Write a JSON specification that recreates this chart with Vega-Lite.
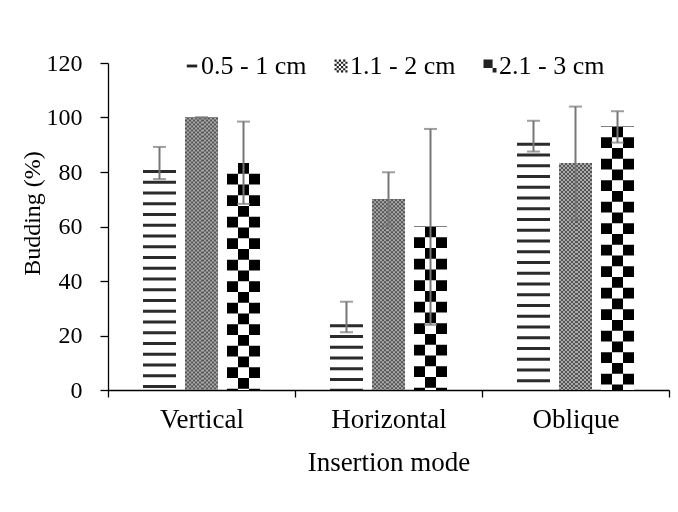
{
  "$schema": "https://vega.github.io/schema/vega-lite/v6.json",
  "width": 561,
  "height": 327,
  "autosize": "none",
  "padding": {"left": 108, "top": 63, "right": 9, "bottom": 122},
  "background": "white",
  "config": {
    "view": {"stroke": null},
    "font": "Liberation Serif",
    "axis": {
      "labelFont": "Liberation Serif",
      "titleFont": "Liberation Serif",
      "labelFontSize": 24,
      "titleFontSize": 24,
      "labelColor": "#000",
      "titleColor": "#000",
      "titleFontWeight": "normal",
      "domainColor": "#000",
      "tickColor": "#000",
      "domainWidth": 1.3,
      "tickWidth": 1.3,
      "grid": false,
      "tickSize": 8
    }
  },
  "data": {
    "values": [
      {"mode": "Vertical", "size": "0.5 - 1 cm", "value": 83.3, "lo": 77.4, "hi": 89.2},
      {"mode": "Vertical", "size": "1.1 - 2 cm", "value": 100, "lo": 100, "hi": 100},
      {"mode": "Vertical", "size": "2.1 - 3 cm", "value": 83.3, "lo": 68.3, "hi": 98.5},
      {"mode": "Horizontal", "size": "0.5 - 1 cm", "value": 26.7, "lo": 21.2, "hi": 32.4},
      {"mode": "Horizontal", "size": "1.1 - 2 cm", "value": 70, "lo": 60.3, "hi": 79.9},
      {"mode": "Horizontal", "size": "2.1 - 3 cm", "value": 60, "lo": 23.9, "hi": 95.8},
      {"mode": "Oblique", "size": "0.5 - 1 cm", "value": 93.3, "lo": 87.5, "hi": 98.8},
      {"mode": "Oblique", "size": "1.1 - 2 cm", "value": 83.3, "lo": 62.4, "hi": 104},
      {"mode": "Oblique", "size": "2.1 - 3 cm", "value": 96.7, "lo": 90.8, "hi": 102.3}
    ]
  },
  "encoding": {
    "x": {
      "field": "mode",
      "type": "nominal",
      "sort": ["Vertical", "Horizontal", "Oblique"],
      "scale": {"paddingInner": 0, "paddingOuter": 0},
      "axis": {"title": "Insertion mode", "labelAngle": 0, "tickBand": "extent", "tickSize": 7, "labelPadding": 9, "titlePadding": 17, "labelFontSize": 27, "titleFontSize": 27}
    },
    "xOffset": {
      "field": "size",
      "type": "nominal",
      "scale": {"domain": ["0.5 - 1 cm", "1.1 - 2 cm", "2.1 - 3 cm"], "paddingInner": 0.214, "paddingOuter": 0.833}
    }
  },
  "layer": [
    {
      "transform": [{"filter": "datum.size === '0.5 - 1 cm'"}],
      "mark": {"type": "rule", "stroke": "#2b2b2b", "strokeWidth": 33, "strokeDash": [3, 7.75], "strokeDashOffset": 3.75},
      "encoding": {
        "y": {"field": "value", "type": "quantitative", "scale": {"domain": [0, 120]},
          "axis": {"title": "Budding (%)", "values": [0, 20, 40, 60, 80, 100, 120], "labelPadding": 18, "titlePadding": 2, "titleY": 150}},
        "y2": {"datum": 0}
      }
    },
    {
      "transform": [{"filter": "datum.size === '1.1 - 2 cm'"}],
      "mark": {"type": "bar", "fill": {"gradient": "linear", "x1": 0, "x2": 1, "y1": 0, "y2": 0, "stops": [
        {"offset": 0, "color": "#555555"}, {"offset": 0.0625, "color": "#555555"},
        {"offset": 0.0625, "color": "#aaaaaa"}, {"offset": 0.125, "color": "#aaaaaa"},
        {"offset": 0.125, "color": "#555555"}, {"offset": 0.1875, "color": "#555555"},
        {"offset": 0.1875, "color": "#aaaaaa"}, {"offset": 0.25, "color": "#aaaaaa"},
        {"offset": 0.25, "color": "#555555"}, {"offset": 0.3125, "color": "#555555"},
        {"offset": 0.3125, "color": "#aaaaaa"}, {"offset": 0.375, "color": "#aaaaaa"},
        {"offset": 0.375, "color": "#555555"}, {"offset": 0.4375, "color": "#555555"},
        {"offset": 0.4375, "color": "#aaaaaa"}, {"offset": 0.5, "color": "#aaaaaa"},
        {"offset": 0.5, "color": "#555555"}, {"offset": 0.5625, "color": "#555555"},
        {"offset": 0.5625, "color": "#aaaaaa"}, {"offset": 0.625, "color": "#aaaaaa"},
        {"offset": 0.625, "color": "#555555"}, {"offset": 0.6875, "color": "#555555"},
        {"offset": 0.6875, "color": "#aaaaaa"}, {"offset": 0.75, "color": "#aaaaaa"},
        {"offset": 0.75, "color": "#555555"}, {"offset": 0.8125, "color": "#555555"},
        {"offset": 0.8125, "color": "#aaaaaa"}, {"offset": 0.875, "color": "#aaaaaa"},
        {"offset": 0.875, "color": "#555555"}, {"offset": 0.9375, "color": "#555555"},
        {"offset": 0.9375, "color": "#aaaaaa"}, {"offset": 1, "color": "#aaaaaa"}
      ]}},
      "encoding": {"y": {"field": "value", "type": "quantitative", "title": "Budding (%)"}}
    },
    {
      "transform": [{"filter": "datum.size === '1.1 - 2 cm'"}],
      "mark": {"type": "rule", "stroke": "#ffffff", "strokeWidth": 33, "strokeDash": [2, 2], "blend": "difference"},
      "encoding": {
        "y": {"field": "value", "type": "quantitative", "title": "Budding (%)"},
        "y2": {"datum": 0}
      }
    },
    {
      "transform": [{"filter": "datum.size === '2.1 - 3 cm'"}],
      "mark": {"type": "bar", "fill": {"gradient": "linear", "x1": 0, "x2": 1, "y1": 0, "y2": 0, "stops": [
        {"offset": 0, "color": "#000000"}, {"offset": 0.3333, "color": "#000000"},
        {"offset": 0.3333, "color": "#ffffff"}, {"offset": 0.6667, "color": "#ffffff"},
        {"offset": 0.6667, "color": "#000000"}, {"offset": 1, "color": "#000000"}
      ]}},
      "encoding": {"y": {"field": "value", "type": "quantitative", "title": "Budding (%)"}}
    },
    {
      "transform": [{"filter": "datum.size === '2.1 - 3 cm'"}],
      "mark": {"type": "rule", "stroke": "#ffffff", "strokeWidth": 33, "strokeDash": [10.75, 10.75], "blend": "difference"},
      "encoding": {
        "y": {"field": "value", "type": "quantitative", "title": "Budding (%)"},
        "y2": {"datum": 0}
      }
    },
    {
      "mark": {"type": "rule", "stroke": "#767676", "strokeWidth": 2},
      "encoding": {
        "y": {"field": "lo", "type": "quantitative", "title": "Budding (%)"},
        "y2": {"field": "hi"}
      }
    },
    {
      "mark": {"type": "tick", "color": "#767676", "size": 13, "thickness": 2},
      "encoding": {"y": {"field": "lo", "type": "quantitative", "title": "Budding (%)"}}
    },
    {
      "mark": {"type": "tick", "color": "#767676", "size": 13, "thickness": 2},
      "encoding": {"y": {"field": "hi", "type": "quantitative", "title": "Budding (%)"}}
    },
    {
      "mark": {"type": "point", "filled": true, "color": "#222222", "opacity": 0},
      "encoding": {
        "y": {"field": "value", "type": "quantitative", "title": "Budding (%)"},
        "shape": {
          "field": "size",
          "type": "nominal",
          "scale": {
            "domain": ["0.5 - 1 cm", "1.1 - 2 cm", "2.1 - 3 cm"],
            "range": [
              "M-0.8,-0.22H0.8V0.22H-0.8Z",
              "M-1,-1h.333v.333h-.333zM-.333,-1h.333v.333h-.333zM.333,-1h.333v.333h-.333zM-.667,-.667h.333v.333h-.333zM0,-.667h.333v.333h-.333zM.667,-.667h.333v.333h-.333zM-1,-.333h.333v.333h-.333zM-.333,-.333h.333v.333h-.333zM.333,-.333h.333v.333h-.333zM-.667,0h.333v.333h-.333zM0,0h.333v.333h-.333zM.667,0h.333v.333h-.333zM-1,.333h.333v.333h-.333zM-.333,.333h.333v.333h-.333zM.333,.333h.333v.333h-.333zM-.667,.667h.333v.333h-.333zM0,.667h.333v.333h-.333zM.667,.667h.333v.333h-.333z",
              "M-1,-1H.4V.3H-1ZM.4,.3H1V1H.4Z"
            ]
          },
          "legend": {
            "title": null,
            "orient": "none",
            "legendX": 71,
            "legendY": -10,
            "direction": "horizontal",
            "columnPadding": 21,
            "labelFont": "Liberation Serif",
            "labelFontSize": 26,
            "labelColor": "#000000",
            "labelOffset": -4,
            "symbolSize": 169,
            "symbolStrokeWidth": 0,
            "symbolOpacity": 1,
            "symbolFillColor": "#222222",
            "padding": 0
          }
        }
      }
    }
  ]
}
